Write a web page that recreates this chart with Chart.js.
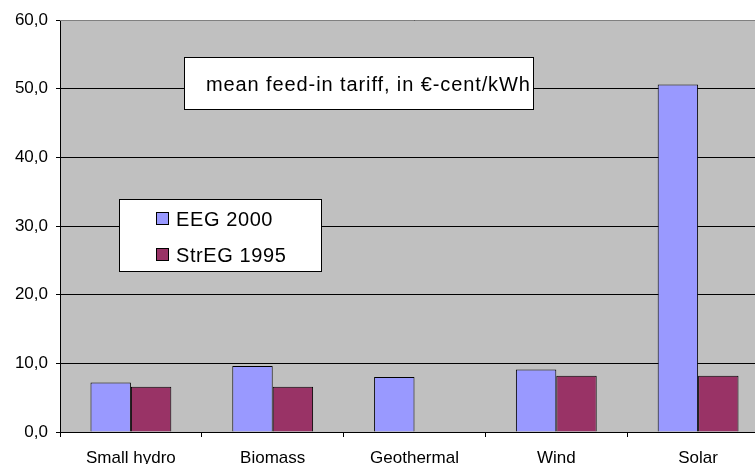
<!DOCTYPE html>
<html>
<head>
<meta charset="utf-8">
<script src="https://cdn.jsdelivr.net/npm/chart.js@4/dist/chart.umd.min.js"></script>
<style>
  html, body { margin: 0; padding: 0; overflow: hidden; background: #fff; }
</style>
</head>
<body>
<canvas id="graf" width="775" height="464"></canvas>
<script>
// kategorier och värden
const categories = ["Small hydro", "Biomass", "Geothermal", "Wind", "Solar"];
const eeg2000 = [7.2, 9.6, 8.0, 9.1, 50.6];
const streg1995 = [6.6, 6.6, null, 8.2, 8.2];
const seriesNames = ["EEG 2000", "StrEG 1995"];
const seriesColors = ["#9999ff", "#993366"];
const yTicks = [0, 10, 20, 30, 40, 50, 60];
const titleText = "mean feed-in tariff, in €-cent/kWh";

const FONT = "'Liberation Sans', Arial, sans-serif";

// grå bakgrund i plotytan + ram
const bakgrund = {
  id: 'bakgrund',
  beforeDraw(chart) {
    const { ctx, chartArea: a } = chart;
    ctx.save();
    ctx.fillStyle = '#c0c0c0';
    ctx.fillRect(a.left, a.top, a.right - a.left, a.bottom - a.top);
    ctx.restore();
  },
  afterDatasetsDraw(chart) {
    const { ctx, chartArea: a } = chart;
    ctx.save();
    ctx.strokeStyle = '#808080';
    ctx.lineWidth = 1;
    ctx.beginPath();
    ctx.moveTo(a.left, Math.round(a.top) + 0.5);
    ctx.lineTo(a.right, Math.round(a.top) + 0.5);
    ctx.stroke();
    ctx.restore();
  }
};

// textrutan och förklaringen
const rutor = {
  id: 'rutor',
  afterDraw(chart) {
    const { ctx } = chart;
    ctx.save();
    ctx.lineWidth = 1;
    ctx.strokeStyle = '#000';

    // rubrikruta
    ctx.fillStyle = '#fff';
    ctx.fillRect(184.5, 57.5, 349, 52);
    ctx.strokeRect(184.5, 57.5, 349, 52);
    ctx.fillStyle = '#000';
    ctx.font = '20px ' + FONT;
    ctx.letterSpacing = '0.9px';
    ctx.textBaseline = 'alphabetic';
    ctx.textAlign = 'left';
    ctx.fillText(titleText, 206, 91);

    // förklaring
    ctx.fillStyle = '#fff';
    ctx.fillRect(119.5, 199.5, 202, 72);
    ctx.strokeRect(119.5, 199.5, 202, 72);
    ctx.font = '20px ' + FONT;
    ctx.letterSpacing = '0.6px';
    chart.data.datasets.forEach((ds, i) => {
      const y = 212 + i * 36;
      ctx.fillStyle = ds.backgroundColor;
      ctx.fillRect(156.5, y + 0.5, 12, 12);
      ctx.strokeRect(156.5, y + 0.5, 12, 12);
      ctx.fillStyle = '#000';
      ctx.fillText(ds.label, 176, y + 14);
    });
    ctx.letterSpacing = '0px';
    ctx.restore();
  }
};

const ctx = document.getElementById('graf').getContext('2d');

new Chart(ctx, {
  type: 'bar',
  data: {
    labels: categories,
    datasets: [
      { label: seriesNames[0], data: eeg2000, backgroundColor: seriesColors[0],
        borderColor: '#000', borderWidth: 1, categoryPercentage: 0.57, barPercentage: 1 },
      { label: seriesNames[1], data: streg1995, backgroundColor: seriesColors[1],
        borderColor: '#000', borderWidth: 1, categoryPercentage: 0.57, barPercentage: 1 }
    ]
  },
  options: {
    responsive: false,
    animation: false,
    layout: { padding: { top: 20, right: 6, left: 0, bottom: 0 } },
    plugins: {
      legend: { display: false },
      tooltip: { enabled: false }
    },
    scales: {
      x: {
        offset: true,
        grid: { offset: true, drawOnChartArea: false, drawTicks: true, tickLength: 5, color: '#000' },
        border: { color: '#000', width: 1 },
        ticks: { color: '#000', font: { family: FONT, size: 17 }, padding: 11, maxRotation: 0 },
        afterFit(scale) { scale.height = 32; }
      },
      y: {
        min: 0,
        max: 60,
        afterBuildTicks(scale) { scale.ticks = yTicks.map(v => ({ value: v })); },
        grid: { color: '#000', tickLength: 4, lineWidth: 1 },
        border: { color: '#000', width: 1 },
        ticks: {
          color: '#000',
          font: { family: FONT, size: 17 },
          padding: 8,
          callback: v => v.toFixed(1).replace('.', ',')
        },
        afterFit(scale) { scale.width = 60; }
      }
    }
  },
  plugins: [bakgrund, rutor]
});
</script>
</body>
</html>
